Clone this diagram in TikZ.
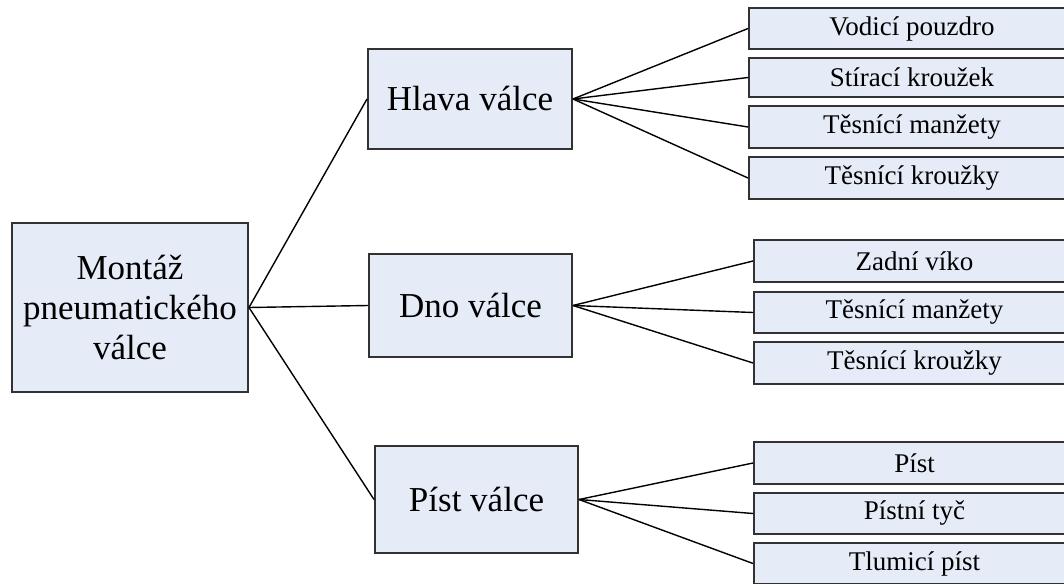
\documentclass[tikz,border=0pt]{standalone}
\usepackage{fontspec}
\setmainfont{Liberation Serif}
\definecolor{boxfill}{RGB}{229,235,247}
\definecolor{boxline}{RGB}{50,50,50}
\begin{document}
\begin{tikzpicture}[x=1pt,y=-1pt,
  box/.style={draw=boxline,line width=2pt,fill=boxfill,inner sep=0pt,align=center},
  bigbox/.style={box,font=\fontsize{35}{40}\selectfont},
  leaf/.style={box,font=\fontsize{27}{30}\selectfont,minimum height=41pt},
  conn/.style={line width=1.4pt,black}]
\clip (0,0) rectangle (1064,583);
\fill[white] (0,0) rectangle (1064,583);
% main boxes
\node[bigbox,minimum width=236pt,minimum height=169pt] (root) at (130,307.5) {Montáž\\pneumatického\\válce};
\node[bigbox,minimum width=204pt,minimum height=100pt] (hlava) at (470,99) {Hlava válce};
\node[bigbox,minimum width=203pt,minimum height=103pt] (dno) at (470.5,305.5) {Dno válce};
\node[bigbox,minimum width=203pt,minimum height=107pt] (pist) at (476.5,499.5) {Píst válce};
% leaves
\node[leaf,minimum width=326pt] (h1) at (912,28.5) {Vodicí pouzdro};
\node[leaf,minimum width=326pt,minimum height=39pt] (h2) at (912,77.5) {Stírací kroužek};
\node[leaf,minimum width=326pt,minimum height=42pt] (h3) at (912,127) {Těsnící manžety};
\node[leaf,minimum width=326pt,minimum height=42pt] (h4) at (912,178) {Těsnící kroužky};
\node[leaf,minimum width=321pt,minimum height=42pt] (d1) at (914.5,261) {Zadní víko};
\node[leaf,minimum width=321pt] (d2) at (914.5,312.5) {Těsnící manžety};
\node[leaf,minimum width=321pt,minimum height=42pt] (d3) at (914.5,363) {Těsnící kroužky};
\node[leaf,minimum width=321pt,minimum height=42pt] (p1) at (914.5,463) {Píst};
\node[leaf,minimum width=321pt] (p2) at (914.5,513.5) {Pístní tyč};
\node[leaf,minimum width=321pt] (p3) at (914.5,563.5) {Tlumicí píst};
% connectors
\draw[conn] (root.east) -- (hlava.west);
\draw[conn] (root.east) -- (dno.west);
\draw[conn] (root.east) -- (pist.west);
\foreach \t in {h1,h2,h3,h4} \draw[conn] (hlava.east) -- (\t.west);
\foreach \t in {d1,d2,d3} \draw[conn] (dno.east) -- (\t.west);
\foreach \t in {p1,p2,p3} \draw[conn] (pist.east) -- (\t.west);
\end{tikzpicture}
\end{document}
